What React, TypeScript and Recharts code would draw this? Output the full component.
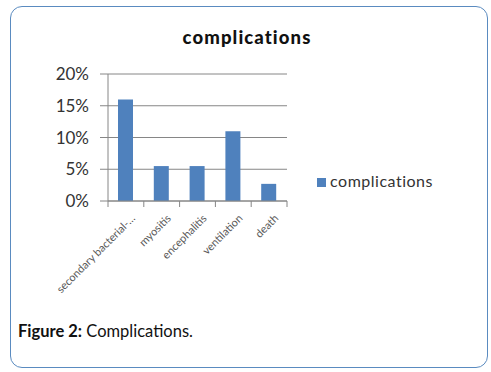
import { BarChart, Bar, XAxis, YAxis, CartesianGrid, Legend } from 'recharts'

// category labels and series values (percent)
const categories = ['secondary bacterial-…', 'myositis', 'encephalitis', 'ventilation', 'death']
const complications = [16, 5.5, 5.5, 11, 2.7]
const yTicks = [0, 5, 10, 15, 20]

const chartData = categories.map((name, i) => ({ name, complications: complications[i] }))

const PLOT_LEFT = 108
const PLOT_RIGHT = 287
const PLOT_TOP = 74
const PLOT_BOTTOM = 201
const BAND = (PLOT_RIGHT - PLOT_LEFT) / categories.length
const FONT = 'Lato, "Open Sans", sans-serif'
const GRID = '#868686'

function CategoryTick(props: any) {
  const { x, y, payload, index } = props
  const left = x - BAND / 2
  const tx = x + 10
  const ty = y + 18
  return (
    <g>
      <line x1={left} y1={y} x2={left} y2={y + 6} stroke={GRID} />
      {index === categories.length - 1 && (
        <line x1={left + BAND} y1={y} x2={left + BAND} y2={y + 6} stroke={GRID} />
      )}
      <text
        x={tx}
        y={ty}
        textAnchor="end"
        transform={`rotate(-45 ${tx} ${ty})`}
        fontSize={11}
        fontFamily={FONT}
        fill="#595959"
      >
        {payload.value}
      </text>
    </g>
  )
}

export default function App() {
  return (
    <div style={{ position: 'absolute', left: 0, top: 0, width: 491, height: 372, background: '#fff' }}>
      <div
        style={{
          position: 'absolute', left: 10, top: 6, width: 478, height: 362,
          border: '1.5px solid #5a8bc0', borderRadius: 12, boxSizing: 'border-box',
        }}
      />
      <div
        style={{
          position: 'absolute', left: 0, width: 494, top: 26, textAlign: 'center',
          fontFamily: FONT, fontWeight: 900, fontSize: 18.5, letterSpacing: 1.1,
          color: '#111', lineHeight: '22px',
        }}
      >
        complications
      </div>
      <div style={{ position: 'absolute', left: 0, top: 0 }}>
        <BarChart
          width={491}
          height={372}
          data={chartData}
          margin={{ top: PLOT_TOP, right: 491 - PLOT_RIGHT, bottom: 0, left: PLOT_LEFT - 60 }}
        >
          <CartesianGrid vertical={false} stroke={GRID} strokeWidth={1} />
          <XAxis
            dataKey="name"
            stroke={GRID}
            tickLine={false}
            tickSize={0}
            tickMargin={0}
            interval={0}
            height={372 - PLOT_BOTTOM}
            tick={<CategoryTick />}
          />
          <YAxis
            width={60}
            domain={[0, 20]}
            ticks={yTicks}
            stroke={GRID}
            tickSize={8}
            tickMargin={11}
            tickFormatter={(v: number) => `${v}%`}
            tick={{ fill: '#333', fontSize: 17, fontFamily: FONT }}
          />
          <Legend
            layout="horizontal"
            verticalAlign="middle"
            align="center"
            iconType="square"
            iconSize={9}
            wrapperStyle={{ left: 305, top: 171, width: 150, fontFamily: FONT, fontSize: 16, letterSpacing: 0.5 }}
            formatter={(value: string) => <span style={{ color: '#333' }}>{value}</span>}
          />
          <Bar dataKey="complications" fill="#4f81bd" barSize={15} isAnimationActive={false} />
        </BarChart>
      </div>
      <div
        style={{
          position: 'absolute', left: 18, top: 321, fontFamily: FONT, fontSize: 16.5,
          color: '#111', whiteSpace: 'nowrap',
        }}
      >
        <b>Figure 2:</b> Complications.
      </div>
    </div>
  )
}
